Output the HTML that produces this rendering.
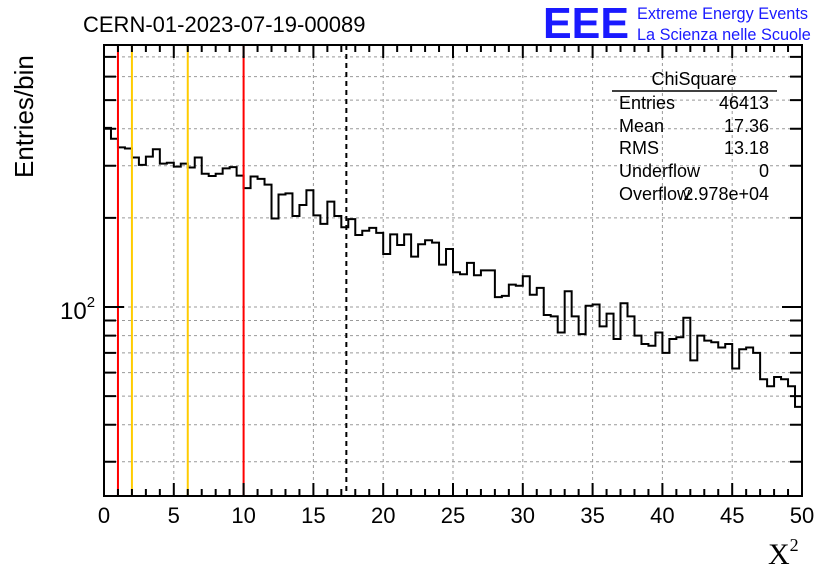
<!DOCTYPE html>
<html><head><meta charset="utf-8"><style>
body{margin:0;background:#fff;}
svg{display:block;font-family:"Liberation Sans",sans-serif;}
</style></head><body>
<svg id="chart" width="836" height="572" viewBox="0 0 836 572" xmlns="http://www.w3.org/2000/svg">
<rect x="0" y="0" width="836" height="572" fill="#fff"/>
<g id="grid"></g>
<g id="marks"></g>
<g id="axes"></g>
<text x="83" y="32" font-size="22">CERN-01-2023-07-19-00089</text>
<text x="543" y="38" font-size="44" font-weight="bold" fill="#1a1aff" textLength="86" lengthAdjust="spacingAndGlyphs">EEE</text>
<text x="637" y="19" font-size="16.3" fill="#1a1aff">Extreme Energy Events</text>
<text x="637" y="40" font-size="16.3" fill="#1a1aff">La Scienza nelle Scuole</text>
<text transform="translate(33,178) rotate(-90)" font-size="26">Entries/bin</text>
<text x="768" y="564" font-size="30" font-family="Liberation Serif,serif">X<tspan font-size="18" dy="-13">2</tspan></text>
<g font-size="18">
<text x="694" y="85" text-anchor="middle">ChiSquare</text>
<line x1="612" y1="91" x2="777" y2="91" stroke="#000" stroke-width="1.5"/>
<text x="619" y="109">Entries</text><text x="769" y="109" text-anchor="end">46413</text>
<text x="619" y="132">Mean</text><text x="769" y="132" text-anchor="end">17.36</text>
<text x="619" y="154">RMS</text><text x="769" y="154" text-anchor="end">13.18</text>
<text x="619" y="177">Underflow</text><text x="769" y="177" text-anchor="end">0</text>
<text x="619" y="200">Overflow</text><text x="769" y="200" text-anchor="end">2.978e+04</text>
</g>
</svg>
<script>
const counts = [403,370,346,343,320,302,322,341,305,307,298,305,296,320,282,277,282,294,297,278,
252,276,271,259,199,240,242,203,221,248,204,191,227,203,186,198,175,181,185,178,
151,176,162,176,148,163,168,165,139,157,131,129,141,128,133,133,108,109,119,118,
127,110,116,94,93,82,113,93,81,101,102,86,95,78,103,93,80,75,74,82,
70,78,79,92,66,80,77,76,73,75,62,72,73,70,57,54,58,57,54,46];
const binRange = [0, 50];
const xTicks = [0,5,10,15,20,25,30,35,40,45,50];
const yGrid = [30,40,50,60,70,80,90,100,200,300,400,500,600,700];
const redLines = [1, 10];
const orangeLines = [2, 6];
const meanValue = 17.36;

const L=104,R=802,T=45,B=496;
const X=v=>L+(v-binRange[0])/(binRange[1]-binRange[0])*(R-L);
const Y=v=>307-296*Math.log10(v/100);
const NS='http://www.w3.org/2000/svg';
function mk(tag,attrs,parent){const e=document.createElementNS(NS,tag);for(const k in attrs)e.setAttribute(k,attrs[k]);parent.appendChild(e);return e;}
const grid=document.getElementById('grid'),marks=document.getElementById('marks'),axes=document.getElementById('axes');

xTicks.forEach(t=>{if(t>binRange[0]&&t<binRange[1]){const l=mk('line',{x1:X(t),x2:X(t),y1:T,y2:B,stroke:'#999','stroke-dasharray':'3,3','stroke-width':1},grid);

}});
yGrid.forEach(v=>{const l=mk('line',{x1:L,x2:R,y1:Y(v),y2:Y(v),stroke:'#999','stroke-dasharray':'3,3','stroke-width':1},grid);

});

const w=(binRange[1]-binRange[0])/counts.length;
let d='M'+X(binRange[0])+','+B;
counts.forEach((c,i)=>{const y=Math.min(B,Y(c));d+=' L'+X(binRange[0]+i*w)+','+y+' L'+X(binRange[0]+(i+1)*w)+','+y;});
const h=mk('path',{d:d,fill:'none',stroke:'#000','stroke-width':2},marks);



redLines.forEach(v=>{const l=mk('line',{x1:X(v),x2:X(v),y1:T,y2:B,stroke:'#f00','stroke-width':2},marks);

});
orangeLines.forEach(v=>{const l=mk('line',{x1:X(v),x2:X(v),y1:T,y2:B,stroke:'#fc0','stroke-width':2},marks);

});
const ml=mk('line',{x1:X(meanValue),x2:X(meanValue),y1:T,y2:B,stroke:'#000','stroke-width':2,'stroke-dasharray':'5,4'},marks);



const frame=mk('rect',{x:L,y:T,width:R-L,height:B-T,fill:'none',stroke:'#000','stroke-width':2},axes);


let td='';
for(let v=binRange[0];v<=binRange[1];v++){const len=(v%5===0)?13:7;const x=X(v);td+=`M${x},${B}v${-len}M${x},${T}v${len}`;}
yGrid.forEach(v=>{const len=(v===100)?20:12;const y=Y(v);td+=`M${L},${y}h${len}M${R},${y}h${-len}`;});
const tk=mk('path',{d:td,stroke:'#000','stroke-width':2,fill:'none'},axes);


xTicks.forEach(t=>{const e=mk('text',{x:X(t),y:523,'font-size':22,'text-anchor':'middle'},axes);e.textContent=t;

});
const yl=mk('text',{x:60,y:Y(100)+12,'font-size':24},axes);


yl.innerHTML='10<tspan font-size="15" dy="-12">2</tspan>';
</script>
</body></html>
